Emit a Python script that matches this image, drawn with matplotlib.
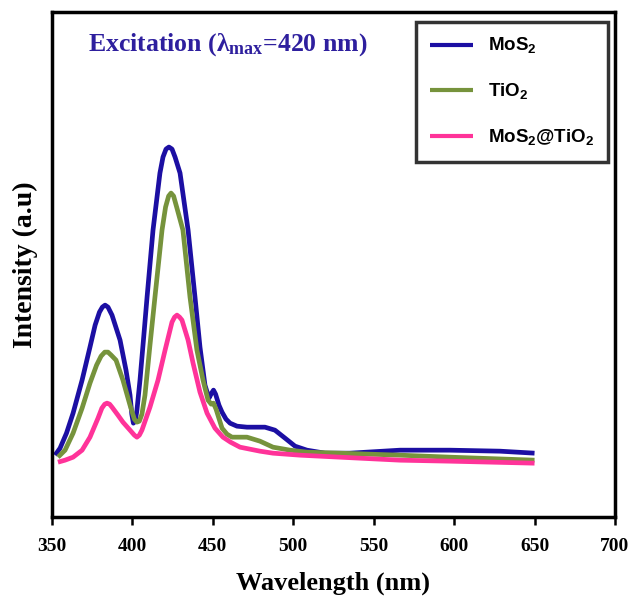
import matplotlib
matplotlib.use("Agg")
import matplotlib.pyplot as plt

plt.rcParams['mathtext.fontset'] = 'custom'
plt.rcParams['mathtext.rm'] = 'Liberation Serif'
plt.rcParams['mathtext.bf'] = 'Liberation Serif:bold'
plt.rcParams['mathtext.sf'] = 'Liberation Sans:bold'

# PL spectra (arbitrary intensity units)
wl_mos2 = [351.9, 355.0, 359.0, 363.1, 368.7, 373.6, 376.8, 379.5, 381.3, 383.0,
           384.8, 387.3, 392.3, 396.0, 398.5, 399.6, 400.6, 401.8, 402.8, 404.7,
           407.0, 409.1, 412.8, 417.1, 419.0, 420.9, 422.7, 424.6, 426.5, 429.6,
           434.6, 438.9, 442.0, 445.1, 447.6, 449.2, 450.4, 451.7, 453.8, 455.7,
           458.2, 460.7, 465.0, 471.2, 482.4, 488.6, 494.9, 501.1, 508.5, 519.7,
           535.3, 566.4, 597.4, 628.5, 650.0]
int_mos2 = [62, 69, 84, 104, 137, 170, 192, 205, 210, 212,
            210, 202, 177, 147, 122, 103, 94, 96, 107, 137,
            180, 220, 287, 344, 360, 368, 370, 368, 360, 344,
            287, 220, 170, 132, 119, 124, 127, 123, 112, 105,
            98, 94, 91, 90, 90, 87, 79, 71, 67, 64,
            64, 67, 67, 66, 64]

wl_tio2 = [353.7, 358.1, 363.1, 368.7, 373.6, 377.7, 380.5, 382.8, 384.8, 386.8,
           389.8, 394.1, 398.5, 401.2, 402.8, 404.3, 405.9, 407.8, 410.9, 414.0,
           418.4, 420.6, 422.5, 424.0, 425.6, 427.5, 431.4, 435.8, 440.1, 443.9,
           447.0, 449.0, 450.4, 452.0, 455.7, 458.8, 461.9, 467.0, 471.2, 479.3,
           487.4, 498.0, 508.5, 529.0, 566.4, 597.4, 650.0]
int_tio2 = [60, 67, 84, 109, 134, 152, 161, 165, 165, 162,
            157, 137, 112, 98, 95, 96, 103, 122, 172, 220,
            287, 310, 321, 324, 321, 310, 287, 220, 167, 137,
            117, 113, 114, 108, 89, 83, 80, 80, 80, 76,
            70, 67, 65, 64, 62, 60, 57]

wl_comp = [353.7, 358.1, 363.1, 368.7, 373.6, 378.6, 381.0, 382.8, 384.2, 385.8,
           387.3, 391.0, 394.1, 398.5, 401.2, 402.8, 404.3, 405.9, 410.9, 415.9,
           420.3, 424.6, 426.2, 427.7, 429.3, 430.8, 434.6, 437.7, 442.0, 446.4,
           451.3, 456.3, 461.0, 466.9, 479.3, 487.4, 504.2, 529.0, 566.4, 597.4,
           650.0]
int_comp = [55, 57, 60, 67, 80, 99, 109, 113, 114, 113,
            110, 102, 95, 87, 82, 80, 82, 87, 110, 137,
            167, 195, 200, 202, 200, 197, 177, 154, 125, 104,
            89, 80, 75, 70, 66, 64, 62, 60, 57, 56,
            54]

labels = [r'MoS$_\mathsf{2}$', r'TiO$_\mathsf{2}$', r'MoS$_\mathsf{2}$@TiO$_\mathsf{2}$']
colors = ['#1c0fa3', '#76933c', '#ff3399']
xticks = [350, 400, 450, 500, 550, 600, 650, 700]

fig = plt.figure(figsize=(6.32, 6.0), dpi=100)
ax = fig.add_axes([0.0823, 0.138, 0.8907, 0.842])

for wl, inten, lab, c in zip([wl_mos2, wl_tio2, wl_comp],
                             [int_mos2, int_tio2, int_comp], labels, colors):
    ax.plot(wl, inten, color=c, lw=3.4, label=lab, solid_joinstyle='round',
            solid_capstyle='butt')

ax.set_xlim(350, 700)
ax.set_ylim(0, 505)
ax.set_xticks(xticks)
ax.set_xticklabels([str(t) for t in xticks], fontfamily='Liberation Serif',
                   fontweight='bold', fontsize=14)
ax.set_yticks([])
ax.tick_params(axis='x', direction='out', length=6, width=1.8, pad=9)
for s in ax.spines.values():
    s.set_linewidth(2.5)

ax.set_xlabel('Wavelength (nm)', fontfamily='Liberation Serif', fontweight='bold',
              fontsize=19, labelpad=12)
ax.set_ylabel('Intensity (a.u)', fontfamily='Liberation Serif', fontweight='bold',
              fontsize=20, labelpad=10)

ax.text(0.064, 0.935, r'Excitation ($\mathbf{\lambda_{max}}$=420 nm)', transform=ax.transAxes,
        fontfamily='Liberation Serif', fontweight='bold', fontsize=18.5, color='#2e1f9e',
        va='center', ha='left')

leg = ax.legend(loc='upper right', bbox_to_anchor=(0.988, 0.98), borderaxespad=0,
                fancybox=False, handlelength=2.3, labelspacing=1.35, handletextpad=0.8,
                borderpad=0.75, prop={'family': 'Liberation Sans', 'weight': 'bold', 'size': 13.5})
leg.get_frame().set_edgecolor('black')
leg.get_frame().set_linewidth(2.5)
for line in leg.get_lines():
    line.set_linewidth(3)

fig.savefig('out.png', dpi=100)
